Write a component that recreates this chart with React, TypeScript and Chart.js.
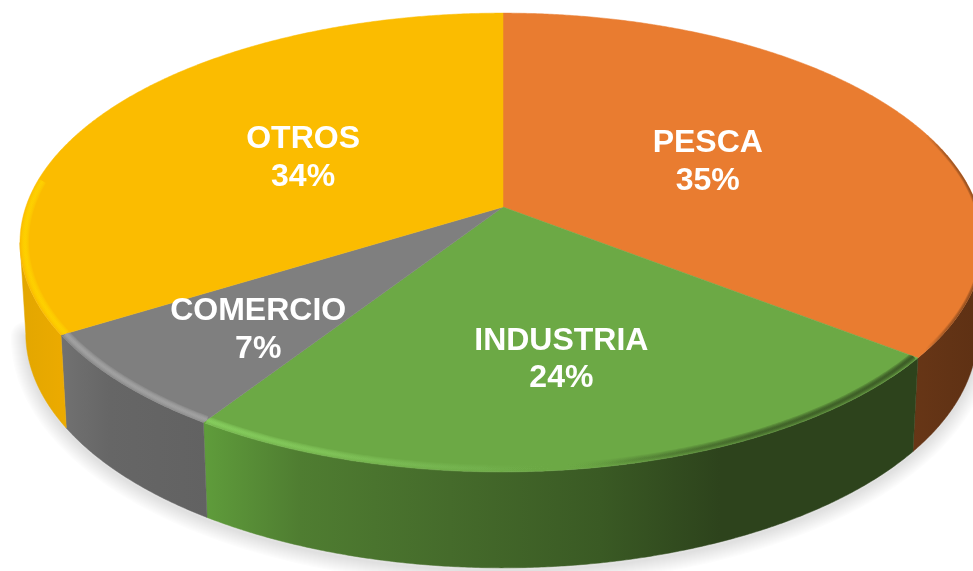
import React, { useEffect, useRef } from "react";
import { Chart, registerables } from "chart.js";

Chart.register(...registerables);

const categories = ["PESCA", "INDUSTRIA", "COMERCIO", "OTROS"];
const shares = [35.45, 23.75, 7, 33.8];
const topColors = ["#E97C30", "#6CA945", "#7F7F7F", "#FBBC00"];

// Styling only: horizontal gradient stops for wall and rim of every slice, as [x, colour]
type Stops = [number, string][];
const wallStops: Stops[] = [
  [[900, "#693717"], [973, "#5f3114"]],
  [[205, "#5f9c3b"], [300, "#4f7d31"], [450, "#456b2b"], [600, "#3a5a24"], [720, "#2d431c"], [915, "#2d431c"]],
  [[62, "#717171"], [110, "#666666"], [208, "#626262"]],
  [[19, "#e2a600"], [70, "#edab00"]],
];
const rimStops: Stops[] = [
  [[925, "rgba(100,52,20,0)"], [945, "rgba(100,52,20,0.6)"], [973, "rgba(100,52,20,0.8)"]],
  [[205, "rgba(140,214,100,1)"], [330, "rgba(135,205,95,0.85)"], [480, "rgba(125,190,90,0.35)"], [560, "rgba(110,170,70,0)"], [620, "rgba(45,67,28,0.2)"], [750, "rgba(45,67,28,0.75)"], [915, "rgba(45,67,28,0.95)"]],
  [[62, "rgba(170,170,170,1)"], [208, "rgba(170,170,170,1)"]],
  [[19, "rgba(255,213,0,1)"], [62, "rgba(255,213,0,1)"]],
];
const labelRadius = [0.5, 0.61, 0.66, 0.49];
const labelNudge = [[-1, -1], [5, 0.5], [-2, 8], [-3, -1]];
const bevelWidths = [8, 6, 4, 2];

// Perspective projection of the pie disc
const CX = 503;
const CY = 207;
const A = 477.2;
const B = 223.9;
const K = 0.1547;
const EAST_SCALE = 0.994;
const TANGENT = Math.asin(K);

const top = (t: number, r = 1): [number, number] => {
  const u = r * Math.cos(t);
  const v = r * Math.sin(t);
  const d = 1 - K * v;
  const dx = (A * u) / d;
  return [CX + (dx > 0 ? dx * EAST_SCALE : dx), CY + (B * v) / d];
};
const bottom = (t: number): [number, number] => {
  const [x, y] = top(t);
  return [CX + (x - CX) * 0.988, y + 90 + 6 * Math.sin(t)];
};

const arcPoints = (from: number, to: number, fn: (t: number) => [number, number]) => {
  const n = Math.max(2, Math.ceil(Math.abs(to - from) / 0.006));
  const out: [number, number][] = [];
  for (let i = 0; i <= n; i++) out.push(fn(from + ((to - from) * i) / n));
  return out;
};

const hGradient = (ctx: CanvasRenderingContext2D, stops: Stops) => {
  const x0 = stops[0][0];
  const x1 = stops[stops.length - 1][0];
  const g = ctx.createLinearGradient(x0, 0, x1, 0);
  stops.forEach(([x, c]) => g.addColorStop((x - x0) / (x1 - x0), c));
  return g;
};

const tracePath = (ctx: CanvasRenderingContext2D, pts: [number, number][]) => {
  pts.forEach(([x, y], i) => (i ? ctx.lineTo(x, y) : ctx.moveTo(x, y)));
};

const pie3d = {
  id: "pie3d",
  beforeDatasetsDraw(chart: any) {
    const ctx: CanvasRenderingContext2D = chart.ctx;
    const arcs = chart.getDatasetMeta(0).data;
    const values: number[] = chart.data.datasets[0].data;
    const colors: string[] = chart.data.datasets[0].backgroundColor;
    const names: string[] = chart.data.labels;

    // soft drop shadow: stacked translucent strokes around the lower rim
    ctx.save();
    ctx.lineJoin = "round";
    ctx.lineCap = "round";
    ctx.strokeStyle = "rgba(0,0,0,0.013)";
    for (let w = 30; w >= 2; w -= 2) {
      ctx.lineWidth = w;
      ctx.beginPath();
      tracePath(ctx, arcPoints(TANGENT, Math.PI - TANGENT, (t) => {
        const [x, y] = bottom(t);
        return [x, y + 3];
      }));
      ctx.stroke();
    }
    ctx.restore();

    // walls: only the part facing the viewer, between the two silhouette tangents
    arcs.forEach((arc: any, i: number) => {
      const from = Math.max(arc.startAngle, TANGENT);
      const to = Math.min(arc.endAngle, Math.PI - TANGENT);
      if (to <= from) return;
      ctx.save();
      const paint = hGradient(ctx, wallStops[i]);
      ctx.fillStyle = paint;
      ctx.strokeStyle = paint;
      ctx.lineWidth = 0.5;
      ctx.beginPath();
      tracePath(ctx, arcPoints(from, to, (t) => top(t)));
      arcPoints(to, from, bottom).forEach(([x, y]) => ctx.lineTo(x, y));
      ctx.closePath();
      ctx.fill();
      ctx.stroke();
      ctx.restore();
    });

    // top faces
    arcs.forEach((arc: any, i: number) => {
      ctx.save();
      ctx.fillStyle = colors[i];
      ctx.strokeStyle = colors[i];
      ctx.lineWidth = 0.5;
      ctx.beginPath();
      ctx.moveTo(CX, CY);
      arcPoints(arc.startAngle, arc.endAngle, (t) => top(t)).forEach(([x, y]) => ctx.lineTo(x, y));
      ctx.closePath();
      ctx.fill();
      ctx.stroke();
      ctx.restore();
    });

    // bevel along the visible rim: stacked strokes give a soft band
    arcs.forEach((arc: any, i: number) => {
      const from = Math.max(arc.startAngle, i === 0 ? -0.5 : -10);
      const to = i === 3 ? Math.min(arc.endAngle, Math.PI + 0.12) : arc.endAngle;
      ctx.save();
      ctx.beginPath();
      ctx.moveTo(CX, CY);
      arcPoints(arc.startAngle, arc.endAngle, (t) => top(t, i === 0 ? 1 : 1.02)).forEach(([x, y]) => ctx.lineTo(x, y));
      ctx.closePath();
      ctx.clip();
      ctx.strokeStyle = hGradient(ctx, rimStops[i]);
      ctx.globalAlpha = 0.3;
      bevelWidths.forEach((w) => {
        ctx.lineWidth = i === 0 ? w * 0.7 : w;
        ctx.beginPath();
        tracePath(ctx, arcPoints(from, to, (t) => top(t, i === 0 ? 1 : 0.99)));
        ctx.stroke();
      });
      ctx.restore();
    });

    // labels
    ctx.save();
    ctx.fillStyle = "#FFFFFF";
    ctx.font = 'bold 32px "Liberation Sans", Arial, sans-serif';
    ctx.textAlign = "center";
    ctx.textBaseline = "alphabetic";
    arcs.forEach((arc: any, i: number) => {
      const [x, y] = top((arc.startAngle + arc.endAngle) / 2, labelRadius[i]);
      const [nx, ny] = labelNudge[i];
      ctx.fillText(names[i], x + nx, y + ny - 6);
      ctx.fillText(`${Math.round(values[i])}%`, x + nx, y + ny + 31.5);
    });
    ctx.restore();
    return false;
  },
};

export default function App() {
  const ref = useRef<HTMLCanvasElement>(null);
  useEffect(() => {
    const chart = new Chart(ref.current!, {
      type: "pie",
      data: {
        labels: categories,
        datasets: [{ data: shares, backgroundColor: topColors, borderWidth: 0 }],
      },
      options: {
        responsive: false,
        animation: false,
        plugins: { legend: { display: false }, tooltip: { enabled: false } },
      },
      plugins: [pie3d],
    } as any);
    return () => chart.destroy();
  }, []);
  return (
    <div style={{ position: "absolute", left: 0, top: 0, width: 973, height: 571, overflow: "hidden", background: "#fff" }}>
      <canvas ref={ref} width={973} height={571} style={{ display: "block" }} />
    </div>
  );
}
